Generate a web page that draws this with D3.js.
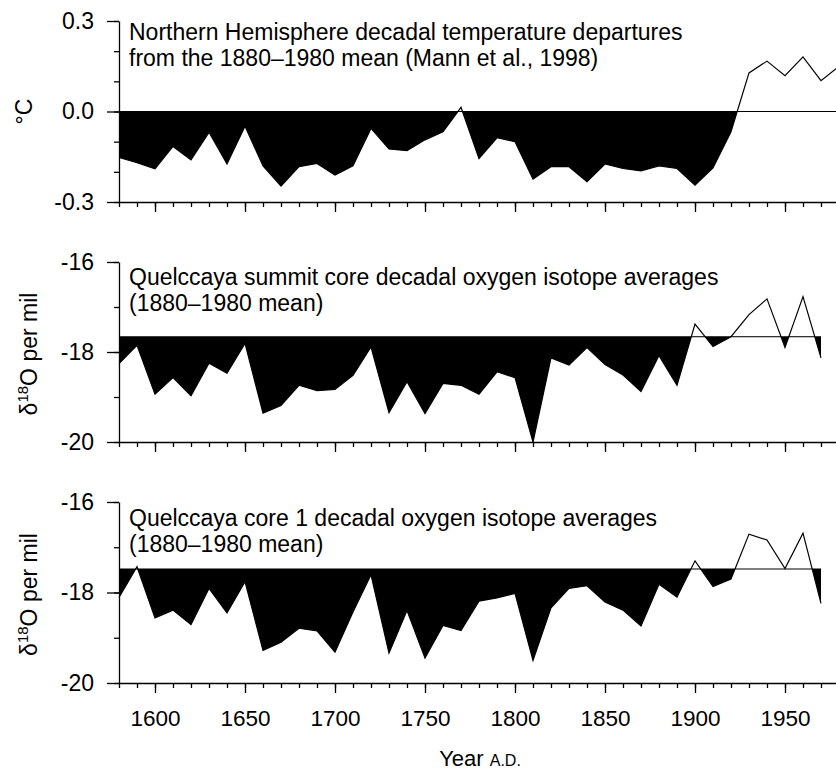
<!DOCTYPE html>
<html lang="en">
<head>
<meta charset="UTF-8">
<title>Decadal temperature and Quelccaya oxygen isotopes</title>
<script src="https://d3js.org/d3.v7.min.js"></script>
<style>
    body { margin: 0; background: #fff; }
    svg { display: block; font-family: "Liberation Sans", Arial, sans-serif; }
    .title { font-size: 23px; fill: #000; }
    .ylabel { font-size: 23px; fill: #000; }
</style>
</head>
<body>
<svg width="836" height="770"></svg>
<script>
    // decades on the x axis
    const years = [1580, 1590, 1600, 1610, 1620, 1630, 1640, 1650, 1660, 1670,
                   1680, 1690, 1700, 1710, 1720, 1730, 1740, 1750, 1760, 1770,
                   1780, 1790, 1800, 1810, 1820, 1830, 1840, 1850, 1860, 1870,
                   1880, 1890, 1900, 1910, 1920, 1930, 1940, 1950, 1960, 1970, 1980];
    const majorYears = [1600, 1650, 1700, 1750, 1800, 1850, 1900, 1950];

    // NH decadal temperature departures (deg C), 1580-1980
    const nhTemp = [-0.152, -0.17, -0.19, -0.116, -0.16, -0.069, -0.174, -0.049, -0.18, -0.247,
                    -0.183, -0.172, -0.211, -0.18, -0.056, -0.124, -0.13, -0.094, -0.067, 0.014,
                    -0.156, -0.087, -0.10, -0.224, -0.183, -0.183, -0.233, -0.174, -0.189, -0.197,
                    -0.18, -0.189, -0.244, -0.187, -0.067, 0.128, 0.167, 0.119, 0.181, 0.102, 0.15];

    // Quelccaya summit core d18O, 1580-1970
    const summitO18 = [-18.26, -17.85, -18.94, -18.57, -18.97, -18.25, -18.47, -17.81, -19.36, -19.19,
                       -18.74, -18.86, -18.83, -18.52, -17.89, -19.35, -18.66, -19.37, -18.70, -18.74,
                       -18.94, -18.44, -18.57, -20.0, -18.13, -18.29, -17.90, -18.28, -18.51, -18.88,
                       -18.08, -18.74, -17.38, -17.88, -17.66, -17.17, -16.82, -17.90, -16.77, -18.13];

    // Quelccaya core 1 d18O, 1580-1970
    const core1O18 = [-18.11, -17.43, -18.56, -18.39, -18.71, -17.91, -18.45, -17.76, -19.28, -19.10,
                      -18.79, -18.85, -19.32, -18.43, -17.61, -19.34, -18.40, -19.45, -18.73, -18.84,
                      -18.19, -18.12, -18.02, -19.50, -18.34, -17.91, -17.85, -18.21, -18.39, -18.74,
                      -17.82, -18.10, -17.30, -17.87, -17.70, -16.71, -16.84, -17.47, -16.69, -18.24];

    // 1880-1980 means
    const nhMean = 0.0;
    const summitMean = -17.66;
    const core1Mean = -17.48;

    const tempTicks = [-0.3, -0.2, -0.1, 0.0, 0.1, 0.2, 0.3];
    const tempLabels = [-0.3, 0.0, 0.3];
    const isoTicks = [-20, -19, -18, -17, -16];
    const isoLabels = [-20, -18, -16];

    const svg = d3.select("svg");
    const x = d3.scaleLinear().domain([1580, 1980]).range([119, 839]);

    const panels = [
        {
            values: nhTemp, mean: nhMean, domain: [-0.3, 0.3], range: [202, 21],
            ticks: tempTicks, labels: tempLabels, fmt: d => d.toFixed(1),
            title: ["Northern Hemisphere decadal temperature departures",
                    "from the 1880\u20131980 mean (Mann et al., 1998)"],
            titleY: 40, gap: 26, ylabel: "deg"
        },
        {
            values: summitO18, mean: summitMean, domain: [-20, -16], range: [442, 262],
            ticks: isoTicks, labels: isoLabels, fmt: d => String(d),
            title: ["Quelccaya summit core decadal oxygen isotope averages",
                    "(1880\u20131980 mean)"],
            titleY: 285, gap: 26, ylabel: "iso"
        },
        {
            values: core1O18, mean: core1Mean, domain: [-20, -16], range: [683, 502],
            ticks: isoTicks, labels: isoLabels, fmt: d => String(d),
            title: ["Quelccaya core 1 decadal oxygen isotope averages",
                    "(1880\u20131980 mean)"],
            titleY: 526, gap: 26, ylabel: "iso"
        }
    ];

    panels.forEach((p, i) => {
        const y = d3.scaleLinear().domain(p.domain).range(p.range);
        const data = p.values.map((v, j) => ({ year: years[j], v: v }));
        const bottom = p.range[0];
        const g = svg.append("g");

        // clip so only the part below the mean gets filled
        g.append("clipPath").attr("id", "below" + i)
            .append("rect")
            .attr("x", 0).attr("y", y(p.mean))
            .attr("width", 836).attr("height", bottom - y(p.mean));

        const area = d3.area()
            .x(d => x(d.year))
            .y0(y(p.mean))
            .y1(d => y(d.v));

        g.append("path")
            .datum(data)
            .attr("clip-path", `url(#below${i})`)
            .attr("fill", "#000")
            .attr("d", area);

        // mean line
        g.append("line")
            .attr("x1", x(years[0])).attr("x2", x(data[data.length - 1].year))
            .attr("y1", y(p.mean)).attr("y2", y(p.mean))
            .attr("stroke", "#000").attr("stroke-width", 1.1);

        const line = d3.line().x(d => x(d.year)).y(d => y(d.v));
        g.append("path")
            .datum(data)
            .attr("fill", "none")
            .attr("stroke", "#000")
            .attr("stroke-width", 1.2)
            .attr("d", line);

        // x axis: minor decade ticks + major 50-year ticks
        g.append("g")
            .attr("transform", `translate(0,${bottom})`)
            .call(d3.axisBottom(x).tickValues(years).tickSize(5).tickSizeOuter(0).tickFormat(""))
            .call(a => a.selectAll("line,path").attr("stroke-width", 1.3));

        const xMajor = g.append("g")
            .attr("transform", `translate(0,${bottom})`)
            .call(d3.axisBottom(x).tickValues(majorYears).tickSize(10).tickPadding(17)
                .tickFormat(i === 2 ? d3.format("d") : ""));
        xMajor.select(".domain").remove();
        xMajor.selectAll("line").attr("stroke-width", 1.3);
        xMajor.selectAll("text")
            .attr("font-family", "Liberation Sans, Arial, sans-serif")
            .attr("font-size", 22.5)
            .attr("fill", "#000");

        // y axis
        g.append("g")
            .attr("transform", `translate(${x(1580)},0)`)
            .call(d3.axisLeft(y).tickValues(p.ticks).tickSize(5).tickSizeOuter(0).tickFormat(""))
            .call(a => a.selectAll("line,path").attr("stroke-width", 1.3));

        const yMajor = g.append("g")
            .attr("transform", `translate(${x(1580)},0)`)
            .call(d3.axisLeft(y).tickValues(p.labels).tickSize(12).tickPadding(13).tickFormat(p.fmt));
        yMajor.select(".domain").remove();
        yMajor.selectAll("line").attr("stroke-width", 1.3);
        yMajor.selectAll("text")
            .attr("font-family", "Liberation Sans, Arial, sans-serif")
            .attr("font-size", 23)
            .attr("fill", "#000");

        // panel title
        p.title.forEach((t, k) => {
            g.append("text")
                .attr("class", "title")
                .attr("x", 129)
                .attr("y", p.titleY + k * p.gap)
                .text(t);
        });

        // y label
        const mid = (p.range[0] + p.range[1]) / 2;
        if (p.ylabel === "deg") {
            g.append("text")
                .attr("class", "ylabel")
                .attr("transform", `translate(32,${mid}) rotate(-90)`)
                .attr("text-anchor", "middle")
                .text("\u00B0C");
        } else {
            const t = g.append("text")
                .attr("class", "ylabel")
                .attr("transform", `translate(37,${mid + 2}) rotate(-90)`)
                .attr("text-anchor", "middle");
            t.append("tspan").text("\u03B4");
            t.append("tspan").attr("font-size", 15).attr("dy", -9).text("18");
            t.append("tspan").attr("dy", 9).text("O per mil");
        }
    });

    // x axis title
    const xt = svg.append("text")
        .attr("x", 480)
        .attr("y", 766)
        .attr("text-anchor", "middle")
        .attr("font-size", 22)
        .attr("fill", "#000");
    xt.append("tspan").text("Year ");
    xt.append("tspan").attr("font-size", 16).text("A.D.");
</script>
</body>
</html>
